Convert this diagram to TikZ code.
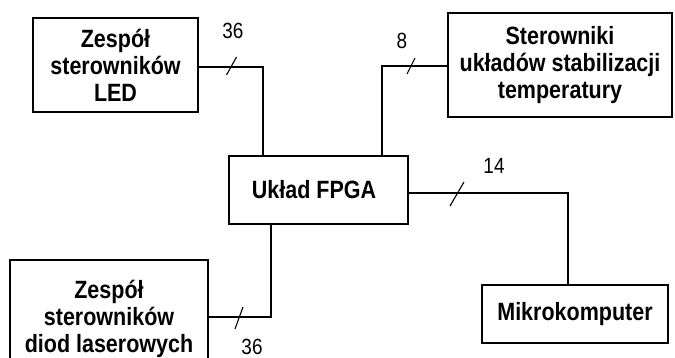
\documentclass[tikz,border=0pt]{standalone}
\usepackage{fontspec}
\usetikzlibrary{calc}
\newfontfamily\dfont[FakeStretch=0.86]{Liberation Sans}
\begin{document}
\begin{tikzpicture}[x=1pt,y=-1pt,
  blk/.style={draw=black, line width=2.4pt, rectangle, inner sep=0pt, align=center,
    font=\dfont\bfseries\fontsize{25}{27}\selectfont},
  wire/.style={draw=black, line width=2pt},
  busmark/.style={draw=black, line width=1.1pt},
  num/.style={inner sep=0pt, font=\dfont\fontsize{22}{24}\selectfont}]
\clip (0,0) rectangle (675,358);
\fill[white] (0,0) rectangle (675,358);
% boxes
\node[blk, minimum width=165pt, minimum height=94pt] (led) at (115.5,65) {Zespół\\sterowników\\LED};
\node[blk, minimum width=224pt, minimum height=104pt] (temp) at (560,65) {Sterowniki\\układów stabilizacji\\temperatury};
\node[blk, minimum width=179pt, minimum height=68pt] (fpga) at (318.5,190) {};
\node[font=\dfont\bfseries\fontsize{25}{27}\selectfont, inner sep=0pt] (fpgat) at (314,190) {Układ FPGA};
\node[blk, minimum width=186pt, minimum height=58pt] (mikro) at (575,314) {Mikrokomputer};
\node[blk, minimum width=198pt, minimum height=118pt] (laser) at (109,319) {Zespół\\sterowników\\diod laserowych};
% connectors
\draw[wire] ([yshift=-2pt]led.east) -| ([xshift=-55.5pt]fpga.north);
\draw[wire] ([yshift=-1pt]temp.west) -| ([xshift=63.5pt]fpga.north);
\draw[wire] ([yshift=-3pt]fpga.east) -| ([xshift=-7pt]mikro.north);
\draw[wire] ([yshift=2pt]laser.east) -| ([xshift=-47.5pt]fpga.south);
% bus marks
\coordinate (s1) at (231.5,66);
\coordinate (s2) at (411,66);
\coordinate (s3) at (457,194);
\coordinate (s4) at (239,318);
\draw[busmark] ($(s1)+(-5,9)$) -- ($(s1)+(5,-9)$);
\draw[busmark] ($(s2)+(-4,8)$) -- ($(s2)+(4,-8)$);
\draw[busmark] ($(s3)+(-7,12)$) -- ($(s3)+(7,-12)$);
\draw[busmark] ($(s4)+(-4,11)$) -- ($(s4)+(4,-11)$);
% labels
\node[num] (n1) at (233,31) {36};
\node[num] (n2) at (402,41) {8};
\node[num] (n3) at (494,166) {14};
\node[num] (n4) at (252,346.5) {36};
\end{tikzpicture}
\end{document}
